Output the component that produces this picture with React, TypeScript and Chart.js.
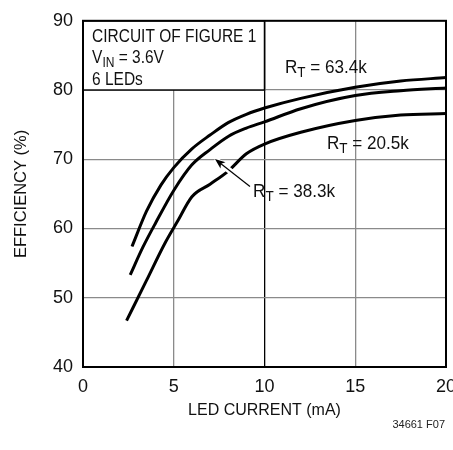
import React, { useEffect, useRef } from "react";
import { Chart, registerables } from "chart.js";

Chart.register(...registerables);

// LED current (mA) and efficiency (%)
const rt634X = [2.7, 3.5, 4.3, 5, 6, 7, 8, 9, 10, 12, 15, 17.5, 20];
const rt634Y = [57.4, 62.5, 66.3, 68.8, 71.5, 73.5, 75.3, 76.5, 77.4, 78.8, 80.4, 81.3, 81.8];
const rt383X = [2.6, 3.3, 4, 5, 6, 7, 8, 9, 10, 12, 15, 17.5, 20];
const rt383Y = [53.3, 57.3, 60.8, 65.5, 69.2, 71.4, 73.3, 74.5, 75.4, 77.3, 79.2, 79.9, 80.3];
const rt205X = [2.4, 3.5, 4.5, 5.2, 6, 7, 8, 9, 10, 12, 15, 17.5, 20];
const rt205Y = [46.7, 52.5, 57.8, 61, 64.6, 66.4, 68.3, 70.8, 72.2, 73.9, 75.6, 76.4, 76.6];

const xTicks = [0, 5, 10, 15, 20];
const yTicks = [40, 50, 60, 70, 80, 90];

const REG = '"Liberation Sans", Arial, sans-serif';

const pts = (xs: number[], ys: number[]) => xs.map((x, i) => ({ x, y: ys[i] }));

function txt(ctx: CanvasRenderingContext2D, s: string, x: number, y: number, size: number, sq: number): number {
  ctx.font = `${size}px ${REG}`;
  const w = ctx.measureText(s).width * sq;
  ctx.save();
  ctx.translate(x, y);
  ctx.scale(sq, 1);
  ctx.fillText(s, 0, 0);
  ctx.restore();
  return w;
}

function drawSub(ctx: CanvasRenderingContext2D, x: number, y: number, main: string, sub: string, rest: string, size: number, sq: number) {
  let cx = x + txt(ctx, main, x, y, size, sq);
  cx += txt(ctx, sub, cx, y + 4, Math.round(size * 0.78), sq);
  txt(ctx, rest, cx, y, size, sq);
}

const decorPlugin = {
  id: "decor",
  beforeDatasetsDraw(chart: any) {
    const { ctx, chartArea: a, scales } = chart;
    const xs = scales.x, ys = scales.y;
    ctx.save();
    const bx0 = xs.getPixelForValue(0), bx1 = xs.getPixelForValue(10);
    const by0 = ys.getPixelForValue(90), by1 = ys.getPixelForValue(80);
    ctx.fillStyle = "#fff";
    ctx.fillRect(bx0, by0, bx1 - bx0, by1 - by0);
    ctx.strokeStyle = "#000";
    ctx.lineWidth = 1.5;
    ctx.strokeRect(bx0, by0, bx1 - bx0, by1 - by0);
    ctx.lineWidth = 2;
    ctx.strokeRect(a.left, a.top, a.right - a.left, a.bottom - a.top);
    ctx.restore();
  },
  afterDatasetsDraw(chart: any) {
    const { ctx, scales } = chart;
    const xs = scales.x, ys = scales.y;
    const px = (v: number) => xs.getPixelForValue(v);
    const py = (v: number) => ys.getPixelForValue(v);
    ctx.save();
    ctx.fillStyle = "#111";
    ctx.textAlign = "left";
    ctx.textBaseline = "alphabetic";
    txt(ctx, "CIRCUIT OF FIGURE 1", px(0.5), py(86.9), 18, 0.86);
    drawSub(ctx, px(0.5), py(83.9), "V", "IN", " = 3.6V", 18, 0.86);
    txt(ctx, "6 LEDs", px(0.5), py(80.75), 18, 0.86);
    drawSub(ctx, px(11.13), py(82.5), "R", "T", " = 63.4k", 19, 0.9);
    drawSub(ctx, px(13.44), py(71.45), "R", "T", " = 20.5k", 19, 0.9);
    drawSub(ctx, px(9.37), py(64.5), "R", "T", " = 38.3k", 19, 0.9);
    // arrow
    const tx = px(7.27), ty = py(70.03), sx = px(9.2), sy = py(66.06);
    const ang = Math.atan2(ty - sy, tx - sx);
    const hl = 11, hw = 0.38;
    ctx.strokeStyle = "#fff";
    ctx.lineWidth = 6;
    ctx.beginPath();
    ctx.moveTo(sx, sy);
    ctx.lineTo(tx, ty);
    ctx.stroke();
    ctx.strokeStyle = "#000";
    ctx.lineWidth = 1.2;
    ctx.beginPath();
    ctx.moveTo(sx, sy);
    ctx.lineTo(tx - Math.cos(ang) * 6, ty - Math.sin(ang) * 6);
    ctx.stroke();
    ctx.fillStyle = "#000";
    ctx.beginPath();
    ctx.moveTo(tx, ty);
    ctx.lineTo(tx - hl * Math.cos(ang - hw), ty - hl * Math.sin(ang - hw));
    ctx.lineTo(tx - hl * 0.7 * Math.cos(ang), ty - hl * 0.7 * Math.sin(ang));
    ctx.lineTo(tx - hl * Math.cos(ang + hw), ty - hl * Math.sin(ang + hw));
    ctx.closePath();
    ctx.fill();
    // footer
    ctx.fillStyle = "#222";
    ctx.font = `11px ${REG}`;
    ctx.textAlign = "right";
    ctx.fillText("34661 F07", 445, 428);
    ctx.restore();
  },
};

export default function App() {
  const ref = useRef<HTMLCanvasElement | null>(null);
  useEffect(() => {
    document.body.style.margin = "0";
    const canvas = ref.current;
    if (!canvas) return;
    const line = (xs: number[], ys: number[]) => ({
      data: pts(xs, ys),
      borderColor: "#000",
      borderWidth: 3,
      pointRadius: 0,
      fill: false,
      tension: 0.4,
      cubicInterpolationMode: "monotone" as const,
    });
    const chart = new Chart(canvas, {
      type: "line",
      data: {
        datasets: [line(rt634X, rt634Y), line(rt383X, rt383Y), line(rt205X, rt205Y)],
      },
      options: {
        animation: false,
        responsive: false,
        devicePixelRatio: 1,
        layout: { padding: { left: 0, right: 7, top: 14, bottom: 0 } },
        plugins: { legend: { display: false }, tooltip: { enabled: false } },
        scales: {
          x: {
            type: "linear",
            min: 0,
            max: 20,
            afterBuildTicks: (s: any) => { s.ticks = xTicks.map((v) => ({ value: v })); },
            afterFit: (s: any) => { s.height = 83; s.paddingLeft = 0; s.paddingRight = 0; },
            ticks: { color: "#111", padding: 9, font: { family: REG, size: 18 } },
            grid: {
              drawTicks: false,
              color: (c: any) => (c.tick && c.tick.value === 10 ? "#000" : "#8a8a8a"),
              lineWidth: 1.3,
            },
            border: { display: true, color: "#000", width: 2 },
            title: {
              display: true,
              text: "LED CURRENT (mA)",
              color: "#111",
              font: { family: REG, size: 16 },
              padding: { top: 0, bottom: 30 },
            },
          },
          y: {
            type: "linear",
            min: 40,
            max: 90,
            afterBuildTicks: (s: any) => { s.ticks = yTicks.map((v) => ({ value: v })); },
            afterFit: (s: any) => { s.width = 83; },
            ticks: { color: "#111", padding: 10, font: { family: REG, size: 18 } },
            grid: { drawTicks: false, color: "#8a8a8a", lineWidth: 1.3 },
            border: { display: true, color: "#000", width: 2 },
            title: {
              display: true,
              text: "EFFICIENCY (%)",
              color: "#111",
              font: { family: REG, size: 16.5 },
              padding: { top: 12, bottom: 0 },
            },
          },
        },
      },
      plugins: [decorPlugin],
    });
    return () => chart.destroy();
  }, []);
  return <canvas ref={ref} width={453} height={450} style={{ display: "block", width: 453, height: 450 }} />;
}
